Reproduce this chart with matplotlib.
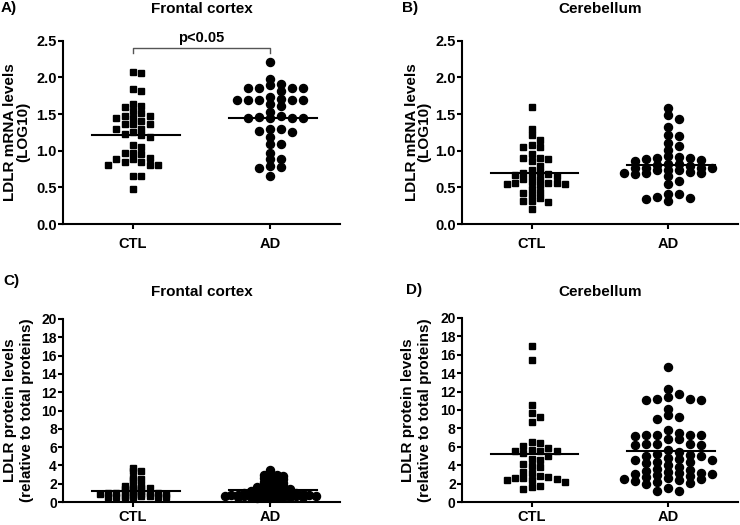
import matplotlib
matplotlib.use("Agg")
import matplotlib.pyplot as plt
import numpy as np

plt.rcParams['font.family'] = ['Liberation Sans', 'DejaVu Sans']
plt.rcParams['font.weight'] = 'bold'

groups = ['CTL', 'AD']

# A) frontal cortex mRNA (LOG10)
a_ctl = [2.06, 2.07, 1.84, 1.81, 1.64, 1.59, 1.61, 1.54, 1.47, 1.45, 1.45, 1.47, 1.52,
         1.37, 1.36, 1.36, 1.41, 1.30, 1.25, 1.23, 1.19, 1.21, 1.29, 1.05, 1.08, 0.96,
         0.97, 0.97, 0.89, 0.85, 0.81, 0.81, 0.81, 0.85, 0.88, 0.90, 0.65, 0.65, 0.48]
a_ad = [2.21, 1.98, 1.91, 1.85, 1.85, 1.82, 1.85, 1.85, 1.89, 1.69, 1.69, 1.71, 1.61,
        1.64, 1.73, 1.69, 1.69, 1.69, 1.53, 1.46, 1.45, 1.44, 1.45, 1.45, 1.47, 1.30,
        1.27, 1.19, 1.25, 1.29, 1.09, 1.09, 0.97, 0.88, 0.88, 0.78, 0.76, 0.79, 0.66]
a_means = [1.22, 1.45]

# B) cerebellum mRNA (LOG10)
b_ctl = [1.59, 1.30, 1.21, 1.14, 1.08, 1.05, 1.05, 0.96, 0.90, 0.90, 0.86, 0.89, 0.79,
         0.71, 0.73, 0.69, 0.68, 0.66, 0.62, 0.65, 0.67, 0.56, 0.55, 0.56, 0.61, 0.53,
         0.55, 0.56, 0.57, 0.42, 0.36, 0.32, 0.48, 0.40, 0.44, 0.31, 0.30, 0.21]
b_ad = [1.58, 1.43, 1.48, 1.32, 1.20, 1.21, 1.10, 1.06, 1.01, 0.91, 0.90, 0.88, 0.90,
        0.93, 0.86, 0.87, 0.82, 0.79, 0.77, 0.81, 0.82, 0.77, 0.76, 0.73, 0.71, 0.73,
        0.74, 0.77, 0.69, 0.68, 0.70, 0.65, 0.69, 0.59, 0.54, 0.41, 0.36, 0.32, 0.34,
        0.37, 0.41]
b_means = [0.70, 0.81]

# C) frontal cortex protein
c_ctl = [3.68, 3.42, 3.35, 2.66, 2.37, 2.51, 1.86, 1.86, 1.57, 1.57, 1.45, 1.57, 1.72,
         1.30, 1.15, 1.05, 1.00, 0.95, 0.90, 0.95, 1.05, 1.00, 0.88, 0.85, 0.75, 0.70,
         0.65, 0.60, 0.55, 0.50, 0.45, 0.70, 0.55, 0.60]
c_ad = [3.5, 3.1, 3.0, 2.9, 2.8, 2.8, 2.7, 2.6, 2.5, 2.5, 2.3, 2.2, 2.2, 2.1, 2.0, 1.9,
        1.8, 1.8, 1.7, 1.6, 1.6, 1.5, 1.5, 1.4, 1.4, 1.3, 1.3, 1.2, 1.2, 1.2, 1.1, 1.1,
        1.0, 1.0, 1.0, 1.0, 0.9, 0.9, 0.9, 0.9, 0.8, 0.8, 0.8, 0.8, 0.8, 0.7, 0.7, 0.7,
        0.7, 0.7, 0.7, 0.6, 0.6, 0.6, 0.6, 0.5, 0.5, 0.5, 0.4, 0.4]
c_means = [1.24, 1.35]

# D) cerebellum protein
d_ctl = [16.96, 15.4, 10.5, 9.64, 9.2, 8.7, 6.55, 6.45, 5.9, 6.1, 5.5, 5.3, 5.5, 5.65,
         5.5, 5.0, 4.64, 4.57, 3.9, 3.77, 4.13, 3.3, 3.1, 2.75, 2.6, 2.4, 2.4, 2.47, 2.6,
         2.2, 2.8, 1.77, 1.41, 1.6]
d_ad = [14.64, 12.3, 11.1, 11.1, 11.4, 11.7, 11.15, 11.2, 10.14, 9.42, 8.99, 9.24, 7.8,
        7.54, 7.25, 7.25, 7.25, 7.25, 7.17, 6.81, 6.8, 6.23, 6.23, 6.27, 6.27, 6.34,
        5.6, 5.4, 5.2, 5.1, 5.0, 5.0, 4.8, 4.6, 4.4, 4.6, 4.2, 4.4, 4.7, 4.0, 3.8, 3.6,
        3.5, 3.4, 3.3, 3.2, 3.1, 3.0, 3.0, 2.9, 2.8, 2.7, 2.6, 2.5, 2.5, 2.4, 2.3, 2.2,
        2.1, 2.0, 1.5, 1.2, 1.2]
d_means = [5.2, 5.54]

W, H = 740, 525
fig = plt.figure(figsize=(W / 100, H / 100), dpi=100)


def swarm(vals, ypx, h):
    # greedy column layout: each point goes to the column nearest the centre
    # where it does not overlap points already placed (h = min gap in px)
    cols = {}
    out = np.zeros(len(vals))
    order = np.argsort(vals)[::-1]
    seq = [0]
    for k in range(1, 30):
        seq += [k, -k]
    for i in order:
        y = vals[i] * ypx
        for k in seq:
            if all(abs(y - yy) >= h for yy in cols.get(k, [])):
                cols.setdefault(k, []).append(y)
                out[i] = k
                break
    return out


def panel(box, ctl, ad, means, top, step, ylabel, label_x, lsp, tick_fs, h, dx_ad, xpad):
    l, r, t, b = box
    ax = fig.add_axes([l / W, 1 - b / H, (r - l) / W, (b - t) / H])
    ypx = (b - t) / top
    xpx = (r - l) / 2.02
    for i, (vals, mk, ms, dx) in enumerate([(ctl, 's', 4.7, 8.3), (ad, 'o', 5.8, dx_ad)]):
        vals = np.array(vals)
        off = swarm(vals, ypx, h) * dx / xpx
        ax.plot(i + off, vals, ls='none', marker=mk, ms=ms, color='black',
                mec='black', clip_on=False)
        ax.plot([i - 0.30, i + 0.34], [means[i], means[i]], color='black', lw=1.5)
    ax.set_xlim(-0.51, 1.51)
    ax.set_ylim(0, top)
    ax.set_yticks(np.arange(0, top + step / 2, step))
    if step < 1:
        ax.set_yticklabels(['%.1f' % v for v in np.arange(0, top + step / 2, step)])
    ax.set_xticks([0, 1])
    ax.set_xticklabels(groups)
    for s in ['top', 'right']:
        ax.spines[s].set_visible(False)
    for s in ['left', 'bottom']:
        ax.spines[s].set_linewidth(1.5)
    ax.tick_params(axis='y', width=1.5, length=3.5, pad=1, labelsize=tick_fs)
    ax.tick_params(axis='x', width=1.5, length=3.5, pad=xpad, labelsize=10.5)
    ax.set_ylabel(ylabel, fontsize=11, fontweight='bold', linespacing=lsp)
    ax.yaxis.set_label_coords(label_x, 0.5)
    return ax


ax_a = panel((63, 340, 40.7, 224), a_ctl, a_ad, a_means, 2.5, 0.5,
             'LDLR mRNA levels\n(LOG10)', -0.118, 0.9, 10.5, 6.5, 11.0, 6)
ax_b = panel((462, 738, 40.7, 224), b_ctl, b_ad, b_means, 2.5, 0.5,
             'LDLR mRNA levels\n(LOG10)', -0.11, 0.9, 10.5, 5.5, 11.0, 6)
ax_c = panel((63, 340, 319, 502), c_ctl, c_ad, c_means, 20, 2,
             'LDLR protein levels\n(relative to total proteins)', -0.105, 1.25, 10, 2.2, 6.5, 2.5)
ax_d = panel((462, 738, 318, 502), d_ctl, d_ad, d_means, 20, 2,
             'LDLR protein levels\n(relative to total proteins)', -0.11, 1.25, 10, 6.0, 11.0, 2.5)

# significance bracket on panel A
ax_a.plot([0, 0, 1, 1], [2.33, 2.40, 2.40, 2.33], color='#555555', lw=1, clip_on=False)
ax_a.text(0.5, 2.54, 'p<0.05', ha='center', va='center', fontsize=10.5,
          fontweight='bold', clip_on=False)

# titles and panel letters
for x, y, s in [(201.5, 9, 'Frontal cortex'), (600, 9, 'Cerebellum'),
                (201.5, 292, 'Frontal cortex'), (600, 292, 'Cerebellum')]:
    fig.text(x / W, 1 - y / H, s, ha='center', va='center', fontsize=11, fontweight='bold')
for x, y, s in [(1, 8, 'A)'), (402, 8, 'B)'), (3, 281, 'C)'), (406, 290, 'D)')]:
    fig.text(x / W, 1 - y / H, s, ha='left', va='center', fontsize=11, fontweight='bold')

fig.savefig('out.png', dpi=100)
